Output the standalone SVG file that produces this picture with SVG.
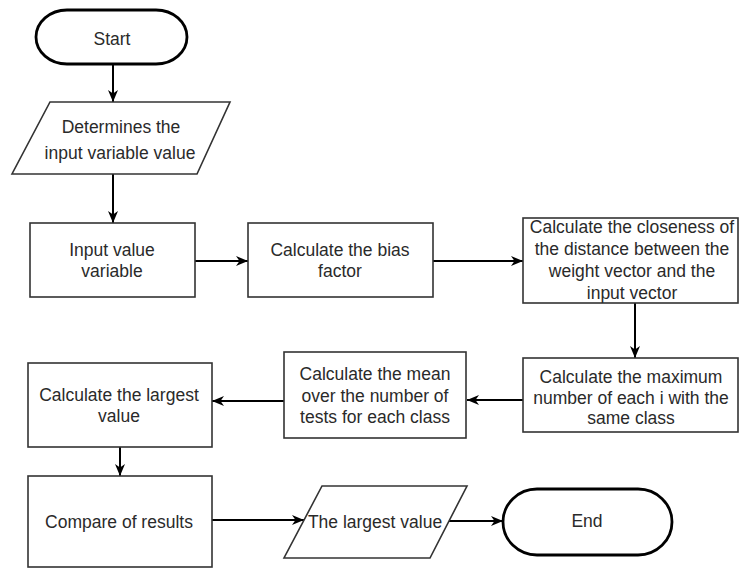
<svg xmlns="http://www.w3.org/2000/svg" width="739" height="568" viewBox="0 0 739 568">
<defs>
<marker id="ah" viewBox="0 0 12 10" refX="12" refY="5" markerWidth="12" markerHeight="10" markerUnits="userSpaceOnUse" orient="auto">
<path d="M0,0 L12,5 L0,10 L3.5,5 z" fill="#000"/>
</marker>
<style>
.box{fill:#fff;stroke:#333;stroke-width:1.6}
.term{fill:#fff;stroke:#000;stroke-width:2.8}
.t{font-family:"Liberation Sans",Arial,sans-serif;font-size:17.5px;fill:#2a2a2a;text-anchor:middle}
.c{fill:none;stroke:#000;stroke-width:2;marker-end:url(#ah)}
</style>
</defs>
<rect width="739" height="568" fill="#fff"/>
<g id="connectors">
<line class="c" x1="113" y1="64" x2="113" y2="102"/>
<line class="c" x1="113" y1="174" x2="113" y2="223"/>
<line class="c" x1="195" y1="261" x2="248" y2="261"/>
<line class="c" x1="433" y1="261" x2="523" y2="261"/>
<line class="c" x1="635" y1="303" x2="635" y2="358"/>
<line class="c" x1="523" y1="400" x2="467" y2="400"/>
<line class="c" x1="284" y1="401" x2="212" y2="401"/>
<line class="c" x1="120" y1="447" x2="120" y2="476"/>
<line class="c" x1="212" y1="520" x2="304" y2="520"/>
<line class="c" x1="449" y1="521" x2="503" y2="521"/>
</g>
<g id="start">
<rect class="term" x="36" y="10" width="151" height="54" rx="31" ry="27"/>
<text class="t" x="112" y="45">Start</text>
</g>
<g id="determine">
<polygon class="box" points="50,102 230,102 197,174 12,174"/>
<text class="t" x="121" y="133">Determines the</text>
<text class="t" x="120" y="159">input variable value</text>
</g>
<g id="input">
<rect class="box" x="30" y="223" width="165" height="74"/>
<text class="t" x="112" y="256">Input value</text>
<text class="t" x="112" y="277">variable</text>
</g>
<g id="bias">
<rect class="box" x="248" y="223" width="185" height="74"/>
<text class="t" x="340" y="256">Calculate the bias</text>
<text class="t" x="340" y="277">factor</text>
</g>
<g id="closeness">
<rect class="box" x="523" y="218" width="215" height="85"/>
<text class="t" x="632" y="233">Calculate the closeness of</text>
<text class="t" x="632" y="255">the distance between the</text>
<text class="t" x="632" y="277">weight vector and the</text>
<text class="t" x="632" y="299">input vector</text>
</g>
<g id="maximum">
<rect class="box" x="523" y="358" width="215" height="74"/>
<text class="t" x="631" y="383">Calculate the maximum</text>
<text class="t" x="631" y="404">number of each i with the</text>
<text class="t" x="631" y="424">same class</text>
</g>
<g id="mean">
<rect class="box" x="284" y="352" width="182" height="86"/>
<text class="t" x="375" y="380">Calculate the mean</text>
<text class="t" x="375" y="402">over the number of</text>
<text class="t" x="375" y="423">tests for each class</text>
</g>
<g id="largest">
<rect class="box" x="28" y="363" width="184" height="84"/>
<text class="t" x="119" y="401">Calculate the largest</text>
<text class="t" x="119" y="422">value</text>
</g>
<g id="compare">
<rect class="box" x="28" y="476" width="184" height="91"/>
<text class="t" x="119" y="528">Compare of results</text>
</g>
<g id="result">
<polygon class="box" points="322,486 467,486 430,558 284,558"/>
<text class="t" x="375" y="528">The largest value</text>
</g>
<g id="end">
<rect class="term" x="503" y="489" width="169" height="66" rx="34" ry="33"/>
<text class="t" x="587" y="527">End</text>
</g>
</svg>
